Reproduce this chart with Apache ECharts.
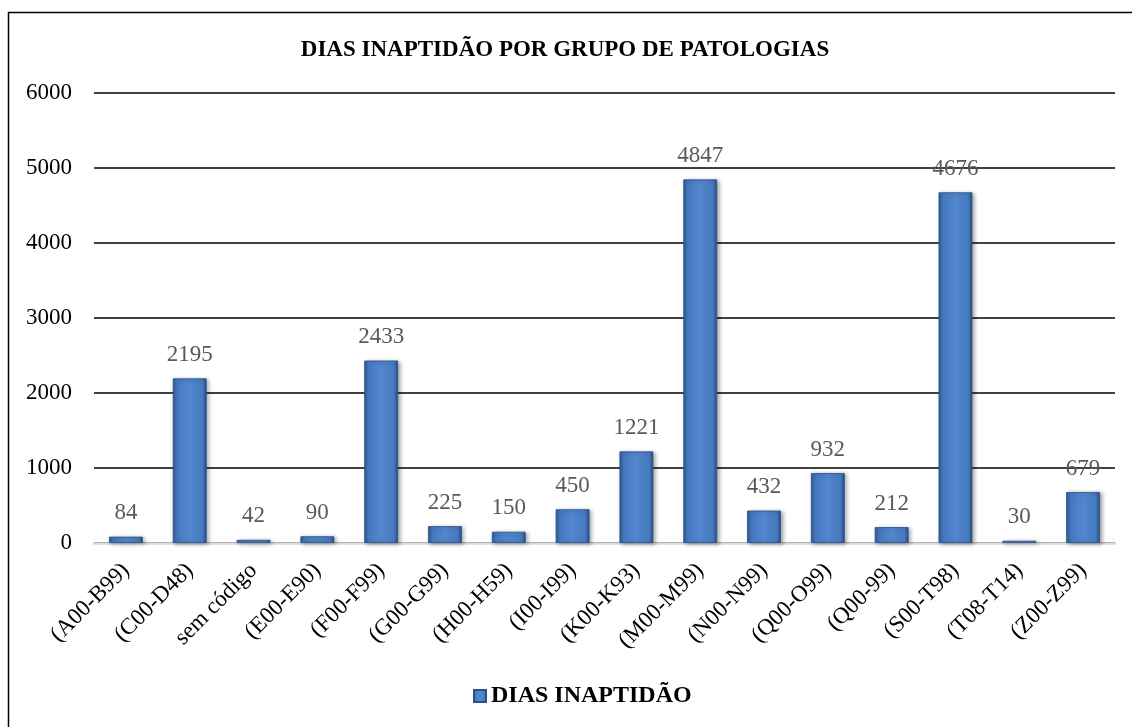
<!DOCTYPE html>
<html><head><meta charset="utf-8">
<script src="https://cdn.jsdelivr.net/npm/echarts@6/dist/echarts.min.js"></script>
<style>html,body{margin:0;padding:0;background:#fff}#c{width:1132px;height:727px}</style>
</head><body><div id="c"></div>
<script>
const categories = ['(A00-B99)','(C00-D48)','sem código','(E00-E90)','(F00-F99)','(G00-G99)','(H00-H59)','(I00-I99)','(K00-K93)','(M00-M99)','(N00-N99)','(Q00-O99)','(Q00-99)','(S00-T98)','(T08-T14)','(Z00-Z99)'];
const values = [84,2195,42,90,2433,225,150,450,1221,4847,432,932,212,4676,30,679];
const seriesName = 'DIAS INAPTIDÃO';
const titleText = 'DIAS INAPTIDÃO POR GRUPO DE PATOLOGIAS';
const yTicks = [0,1000,2000,3000,4000,5000,6000];

const font = '"Liberation Serif","Times New Roman",serif';
const barGrad = new echarts.graphic.LinearGradient(0,0,1,0,[
  {offset:0,color:'#2c5a96'},{offset:0.12,color:'#4679bf'},{offset:0.5,color:'#5187cf'},{offset:0.88,color:'#4679bf'},{offset:1,color:'#254b80'}]);
const chart = echarts.init(document.getElementById('c'));
chart.setOption({
  animation:false,
  backgroundColor:'#fff',
  graphic:[{type:'rect',shape:{x:8.5,y:12.5,width:1140,height:740},style:{fill:'none',stroke:'#000',lineWidth:1.5},silent:true,z:-1}],
  title:{text:titleText,left:560,textAlign:'center',top:34,textStyle:{fontFamily:font,fontWeight:'bold',fontSize:23,color:'#000'}},
  legend:{data:[seriesName],bottom:14,left:468,itemWidth:12,itemHeight:12,itemGap:4,
    textStyle:{fontFamily:font,fontWeight:'bold',fontSize:24,color:'#000'},
    icon:'rect'},
  grid:{left:94,right:17,top:93,bottom:184,containLabel:false},
  xAxis:{type:'category',data:categories,
    axisLine:{lineStyle:{color:'#d9d9d9',width:2.5}},axisTick:{show:false},
    axisLabel:{rotate:45,fontFamily:font,fontSize:23,color:'#000',margin:24,interval:0}},
  yAxis:{type:'value',min:yTicks[0],max:yTicks[yTicks.length-1],interval:1000,
    axisLine:{show:false},axisTick:{show:false},
    splitLine:{lineStyle:{color:'#000',width:1.5}},
    axisLabel:{fontFamily:font,fontSize:23,color:'#000',margin:22,formatter:v=>String(v)}},
  series:[{name:seriesName,type:'bar',data:values,barWidth:'53%',
    itemStyle:{color:barGrad,borderColor:'#2a5289',borderWidth:0.8,shadowColor:'rgba(0,0,0,0.35)',shadowBlur:4,shadowOffsetX:2,shadowOffsetY:1},
    label:{show:true,position:'top',distance:12,fontFamily:font,fontSize:23,color:'#595959'}}]
});
</script></body></html>
